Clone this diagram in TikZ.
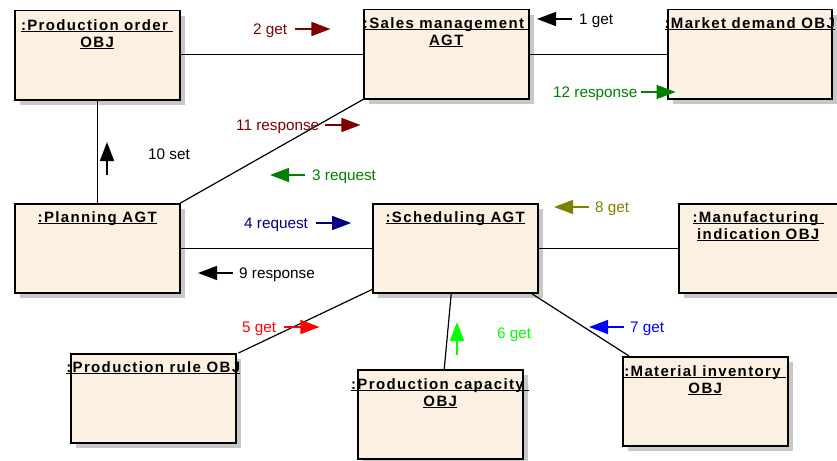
\documentclass[tikz,border=0pt]{standalone}
\usepackage{fontspec}
\setmainfont{Liberation Sans}
\newfontfamily\ttlfont[LetterSpace=9]{Liberation Sans}
\usepackage{tikz}
\usetikzlibrary{positioning}
\usetikzlibrary{shadows}
\usetikzlibrary{arrows.meta}
\definecolor{boxfill}{HTML}{FBF0E1}
\definecolor{shadowgray}{HTML}{C8C8C8}
\definecolor{msgdarkred}{HTML}{800000}
\definecolor{msggreen}{HTML}{008000}
\definecolor{msgnavy}{HTML}{000080}
\definecolor{msgolive}{HTML}{808000}
\definecolor{msgred}{HTML}{FF0000}
\definecolor{msglime}{HTML}{00FF00}
\definecolor{msgblue}{HTML}{0000FF}
\newcommand{\ul}[1]{\setbox0\hbox{#1}\rlap{\rule[-1.8pt]{\wd0}{1.1pt}}\box0}
\newcommand{\msgR}[5]{\node[msg, text=#2] (#1) at (#3) {#4}; \coordinate (#1tip) at ([xshift=#5+35pt]#1.east); \draw[msgarrow, #2] ([xshift=#5]#1.east) -- (#1tip);}
\newcommand{\msgL}[5]{\node[msg, text=#2] (#1) at (#3) {#4}; \coordinate (#1tip) at ([xshift=-#5-35pt]#1.west); \draw[msgarrow, #2] ([xshift=-#5]#1.west) -- (#1tip);}
\tikzset{
  objbox/.style={draw, line width=1.5pt, fill=boxfill, minimum width=165pt, minimum height=89pt, anchor=north west, inner sep=0pt,
    drop shadow={shadow xshift=5pt, shadow yshift=-5pt, fill=shadowgray, opacity=1}},
  objtitle/.style={font=\ttlfont\bfseries\fontsize{15}{17}\selectfont, align=center, inner sep=0pt},
  link/.style={line width=1.2pt},
  msg/.style={font=\fontsize{15.3}{18}\selectfont, inner sep=0pt, anchor=west, text height=11pt, text depth=0pt},
  msgarrow/.style={line width=1.5pt, -{Triangle[length=19pt,width=14pt]}},
}

\begin{document}
\begin{tikzpicture}[x=1pt, y=-1pt]
    \useasboundingbox (0,0) rectangle (837,460);
    % objects and agents
    \node[objbox] (prodorder) at (14,10) {};
    \node[objbox] (sales) at (363,9) {};
    \node[objbox, minimum width=164pt] (market) at (667,9) {};
    \node[objbox] (planning) at (14,203) {};
    \node[objbox] (scheduling) at (372,203) {};
    \node[objbox, minimum width=159pt] (manuf) at (678,203) {};
    \node[objbox] (prodrule) at (70,353) {};
    \node[objbox] (capacity) at (357,369) {};
    \node[objbox] (inventory) at (622,356) {};
    % titles
    \node[objtitle, below=9pt of prodorder.north] (prodorderT) {\ul{:Production order\ }\\\ul{OBJ}};
    \node[objtitle, below=8pt of sales.north] (salesT) {\ul{:Sales management\ }\\\ul{AGT}};
    \node[objtitle, below=8pt of market.north] (marketT) {\ul{:Market demand OBJ}};
    \node[objtitle, below=8pt of planning.north] (planningT) {\ul{:Planning AGT}};
    \node[objtitle, below=8pt of scheduling.north] (schedulingT) {\ul{:Scheduling AGT}};
    \node[objtitle, below=8pt of manuf.north] (manufT) {\ul{:Manufacturing\ }\\\ul{indication OBJ}};
    \node[objtitle, below=8pt of prodrule.north] (prodruleT) {\ul{:Production rule OBJ}};
    \node[objtitle, below=9pt of capacity.north] (capacityT) {\ul{:Production capacity\ }\\\ul{OBJ}};
    \node[objtitle, below=9pt of inventory.north] (inventoryT) {\ul{:Material inventory\ }\\\ul{OBJ}};
    % links
    \draw[link] (sales.west) -- (sales.west -| prodorder.east);
    \draw[link] (sales.east) -- (market.west);
    \draw[link] (prodorder.south) -- (planning.north);
    \draw[link] (planning.north east) -- (sales.south west);
    \draw[link] (planning.east) -- (scheduling.west);
    \draw[link] (scheduling.east) -- (manuf.west);
    \draw[link] ([yshift=4pt]scheduling.south west) -- ([xshift=2pt]prodrule.north east);
    \draw[link] ([xshift=-4pt]scheduling.south) -- ([xshift=4pt]capacity.north);
    \draw[link] ([xshift=-7pt]scheduling.south east) -- ([xshift=7pt]inventory.north west);
    % messages
    \msgL{m1}{black}{579,19}{1 get}{7pt}
    \msgR{m2}{msgdarkred}{253,29}{2 get}{8pt}
    \msgL{m3}{msggreen}{312,175}{3 request}{7pt}
    \msgR{m4}{msgnavy}{244,223}{4 request}{8pt}
    \msgR{m5}{msgred}{242,327}{5 get}{8pt}
    \node[msg, text=msglime] (m6) at (497,333) {6 get};
    \coordinate (m6a) at (457,355);
    \coordinate (m6tip) at (457,322);
    \draw[msgarrow, msglime] (m6a) -- (m6tip);
    \msgL{m7}{msgblue}{630,327}{7 get}{6pt}
    \msgL{m8}{msgolive}{595,207}{8 get}{6pt}
    \msgL{m9}{black}{239,273}{9 response}{6pt}
    \node[msg] (m10) at (148,154) {10 set};
    \coordinate (m10a) at (107,175);
    \coordinate (m10tip) at (107,142);
    \draw[msgarrow] (m10a) -- (m10tip);
    \msgR{m11}{msgdarkred}{236,125}{11 response}{6pt}
    \msgR{m12}{msggreen}{553,92}{12 response}{3pt}
\end{tikzpicture}
\end{document}
